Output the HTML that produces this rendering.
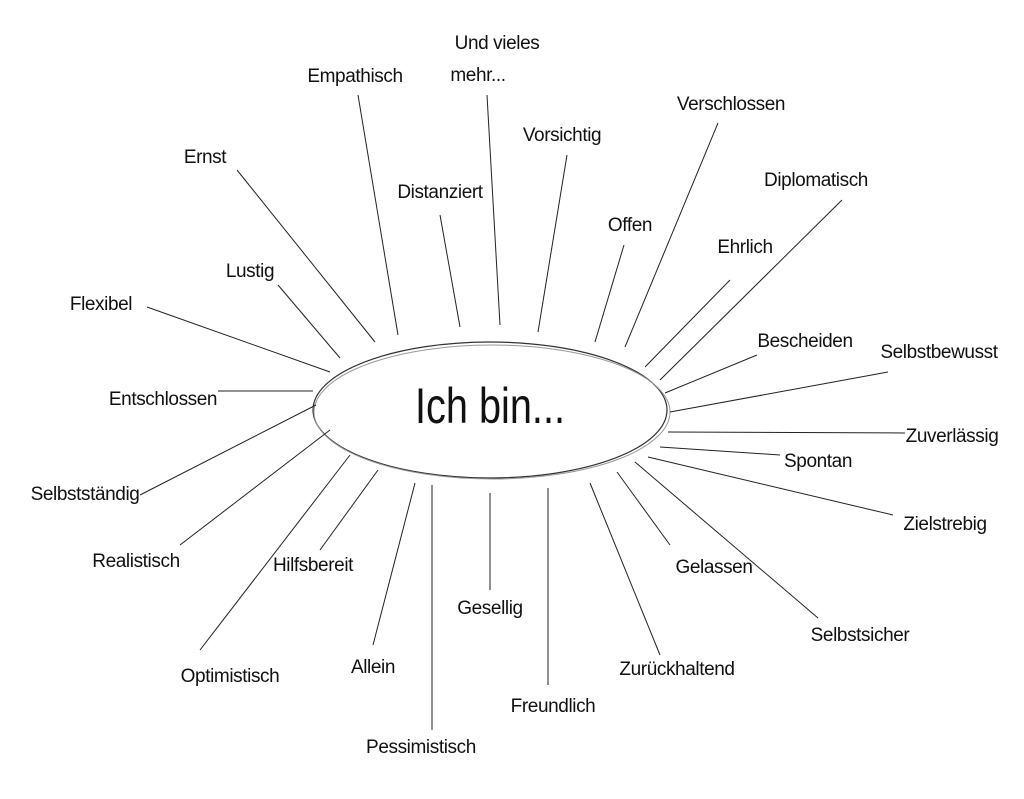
<!DOCTYPE html>
<html><head><meta charset="utf-8"><style>
html,body{margin:0;padding:0;background:#fff;}
svg{display:block}
text{font-family:"Liberation Sans Narrow","Liberation Sans",sans-serif;font-size:19px;letter-spacing:-0.4px;fill:#111;text-anchor:middle;dominant-baseline:middle}
line{stroke:#222;stroke-width:1}
</style></head><body>
<svg width="1024" height="799" viewBox="0 0 1024 799">
<ellipse cx="490" cy="410" rx="177" ry="68" fill="#fff" stroke="#333" stroke-width="1.2"/>
<ellipse cx="492" cy="412" rx="178" ry="67" fill="none" stroke="#999" stroke-width="1"/>
<text x="490" y="410" style="font-size:50px;letter-spacing:0" textLength="150" lengthAdjust="spacingAndGlyphs">Ich bin...</text>
<g>
<line x1="358" y1="95" x2="398" y2="335"/>
<line x1="487" y1="95" x2="500" y2="325"/>
<line x1="237" y1="170" x2="375" y2="342"/>
<line x1="440" y1="215" x2="460" y2="327"/>
<line x1="567" y1="155" x2="538" y2="332"/>
<line x1="718" y1="123" x2="625" y2="347"/>
<line x1="624" y1="245" x2="595" y2="342"/>
<line x1="842" y1="200" x2="660" y2="380"/>
<line x1="730" y1="280" x2="645" y2="367"/>
<line x1="278" y1="285" x2="340" y2="358"/>
<line x1="147" y1="307" x2="330" y2="372"/>
<line x1="757" y1="355" x2="665" y2="393"/>
<line x1="888" y1="372" x2="670" y2="412"/>
<line x1="218" y1="391" x2="313" y2="391"/>
<line x1="905" y1="433" x2="668" y2="432"/>
<line x1="780" y1="455" x2="660" y2="447"/>
<line x1="140" y1="495" x2="316" y2="405"/>
<line x1="893" y1="515" x2="648" y2="457"/>
<line x1="180" y1="545" x2="330" y2="430"/>
<line x1="320" y1="550" x2="378" y2="470"/>
<line x1="670" y1="545" x2="617" y2="472"/>
<line x1="818" y1="618" x2="635" y2="462"/>
<line x1="490" y1="590" x2="490" y2="493"/>
<line x1="200" y1="650" x2="350" y2="455"/>
<line x1="373" y1="645" x2="415" y2="483"/>
<line x1="660" y1="655" x2="590" y2="483"/>
<line x1="548" y1="685" x2="548" y2="488"/>
<line x1="432" y1="730" x2="432" y2="485"/>
</g>
<text x="355" y="77">Empathisch</text>
<text x="497" y="44">Und vieles</text>
<text x="478" y="76">mehr...</text>
<text x="205" y="158">Ernst</text>
<text x="440" y="193">Distanziert</text>
<text x="562" y="136">Vorsichtig</text>
<text x="731" y="105">Verschlossen</text>
<text x="630" y="226">Offen</text>
<text x="816" y="181">Diplomatisch</text>
<text x="745" y="248">Ehrlich</text>
<text x="250" y="272">Lustig</text>
<text x="101" y="305">Flexibel</text>
<text x="805" y="342">Bescheiden</text>
<text x="939" y="353">Selbstbewusst</text>
<text x="163" y="400">Entschlossen</text>
<text x="952" y="437">Zuverlässig</text>
<text x="818" y="462">Spontan</text>
<text x="85" y="495">Selbstständig</text>
<text x="945" y="525">Zielstrebig</text>
<text x="136" y="562">Realistisch</text>
<text x="313" y="566">Hilfsbereit</text>
<text x="714" y="568">Gelassen</text>
<text x="860" y="636">Selbstsicher</text>
<text x="490" y="609">Gesellig</text>
<text x="230" y="677">Optimistisch</text>
<text x="373" y="668">Allein</text>
<text x="677" y="670">Zurückhaltend</text>
<text x="553" y="707">Freundlich</text>
<text x="421" y="748">Pessimistisch</text>
</svg>
</body></html>
